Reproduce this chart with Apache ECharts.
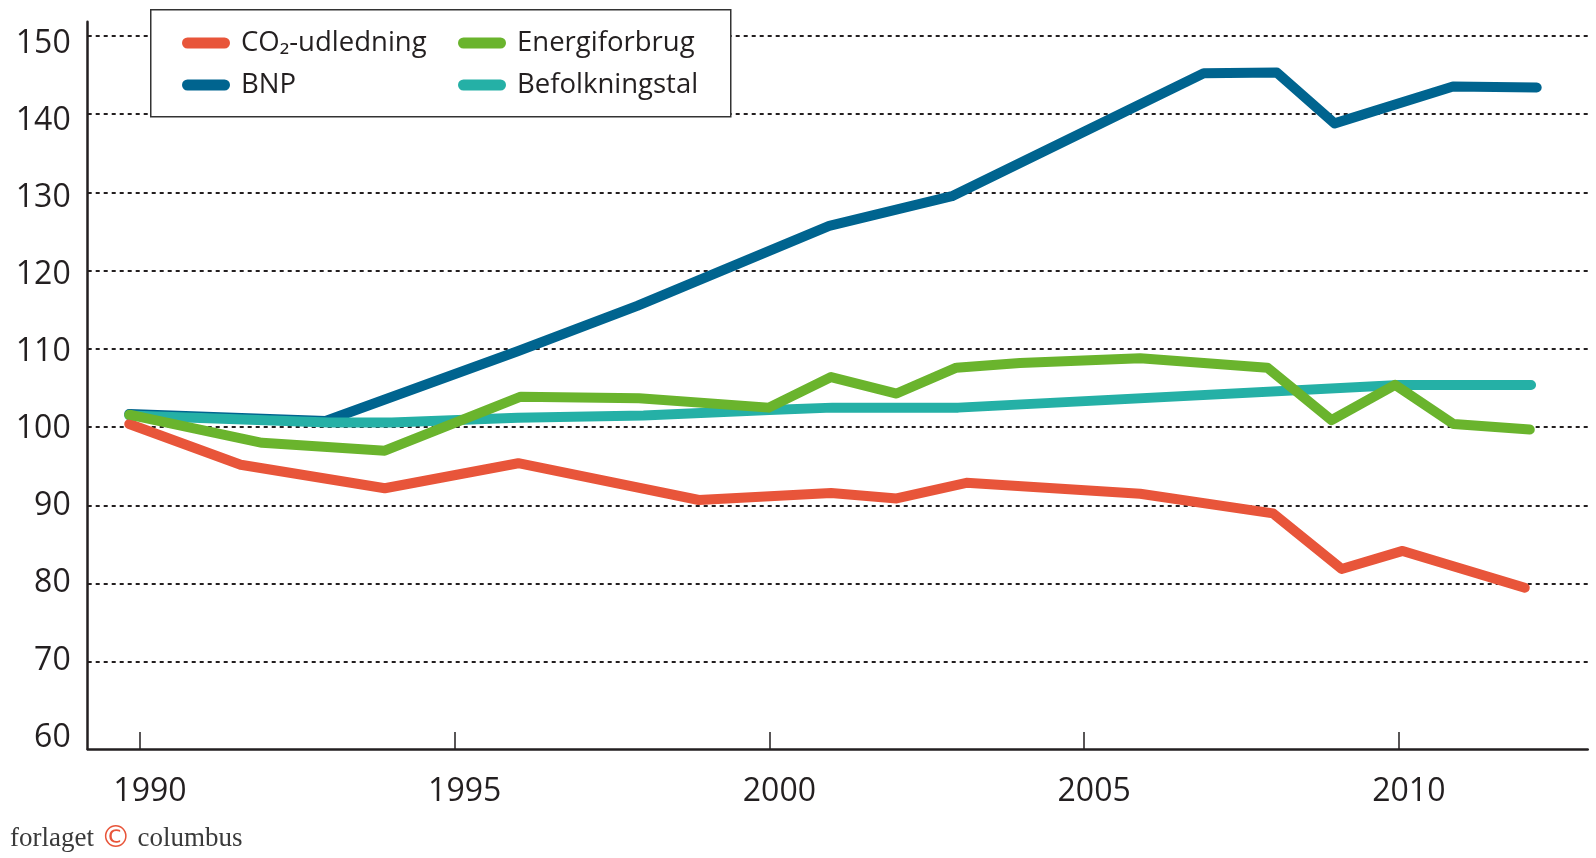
<!DOCTYPE html>
<html>
<head>
<meta charset="utf-8">
<script src="https://cdn.jsdelivr.net/npm/echarts@6/dist/echarts.min.js"></script>
<style>
  html, body { margin: 0; padding: 0; background: #fff; }
  #chart { width: 1596px; height: 858px; }
</style>
</head>
<body>
<div id="chart"></div>
<script>
// akse-etiketter
const yearTicks = [1990, 1995, 2000, 2005, 2010];
const valueTicks = [60, 70, 80, 90, 100, 110, 120, 130, 140, 150];

// (indeks, 1990 = 100)
const co2Years = [1989.83, 1991.6, 1993.89, 1996.01, 1998.88, 2000.98, 2002.02, 2003.13, 2005.89, 2008.0, 2009.09, 2010.06, 2012.0];
const co2Values = [100.4, 95.2, 92.2, 95.4, 90.7, 91.6, 90.9, 92.9, 91.5, 89.0, 81.9, 84.2, 79.5];

const energyYears = [1989.83, 1991.94, 1993.89, 1996.05, 1997.93, 1999.99, 2000.98, 2002.02, 2002.97, 2003.98, 2005.89, 2007.91, 2008.93, 2009.94, 2010.87, 2012.08];
const energyValues = [101.6, 98.0, 97.0, 103.9, 103.7, 102.5, 106.4, 104.3, 107.6, 108.2, 108.8, 107.6, 100.9, 105.4, 100.4, 99.7];

const bnpYears = [1989.83, 1992.95, 1996.0, 1997.9, 2000.95, 2002.9, 2006.9, 2008.06, 2008.98, 2010.86, 2012.19];
const bnpValues = [101.7, 100.8, 109.7, 115.5, 125.7, 129.5, 145.2, 145.3, 138.8, 143.5, 143.4];

const popYears = [1989.83, 1993.0, 1994.0, 1996.0, 1998.0, 2000.0, 2001.0, 2003.0, 2010.0, 2012.1];
const popValues = [101.5, 100.6, 100.6, 101.2, 101.5, 102.2, 102.5, 102.5, 105.4, 105.4];

const pair = (xs, ys) => xs.map((x, i) => [x, ys[i]]);

const X_MIN = 1989.17, X_MAX = 2013.0;
const ink = '#231f20';
const font = 'Open Sans';
const pill = 'path://M5.5,0H42.5A5.5,5.5,0,0,1,42.5,11H5.5A5.5,5.5,0,0,1,5.5,0Z';

const legendBase = {
    orient: 'vertical',
    top: 28,
    itemWidth: 48,
    itemHeight: 11,
    itemGap: 12,
    icon: pill,
    selectedMode: false,
    padding: 0,
    textStyle: { fontFamily: font, fontSize: 27.5, color: ink, lineHeight: 30, padding: [0, 0, 0, 6] }
};

function lineSeries(name, xs, ys, color) {
    return {
        name: name,
        type: 'line',
        xAxisIndex: 0,
        yAxisIndex: 0,
        data: pair(xs, ys),
        symbol: 'none',
        itemStyle: { color: color },
        lineStyle: { color: color, width: 10, cap: 'round', join: 'round' },
        z: 2
    };
}

const option = {
    backgroundColor: '#fff',
    animation: false,
    grid: [
        // dataområde: 60 - 150
        { left: 87.7, right: 8.3, top: 35.7, bottom: 117.6 },
        // ramme med akselinjer
        { left: 87.7, right: 8.3, top: 21.7, bottom: 109 }
    ],
    xAxis: [
        { gridIndex: 0, type: 'value', min: X_MIN, max: X_MAX, show: false },
        {
            gridIndex: 1, type: 'value', min: X_MIN, max: X_MAX,
            axisLine: { show: true, onZero: false, lineStyle: { color: ink, width: 2.5 } },
            axisTick: { show: true, inside: true, length: 17, customValues: yearTicks, lineStyle: { color: ink, width: 1.5 } },
            axisLabel: {
                customValues: yearTicks, formatter: v => String(v),
                fontFamily: font, fontSize: 32, color: ink, margin: 27, padding: [0, 0, 0, 20]
            },
            splitLine: { show: false }
        }
    ],
    yAxis: [
        {
            gridIndex: 0, type: 'value', min: 60, max: 150, interval: 10,
            axisLine: { show: false },
            axisTick: { show: false },
            axisLabel: { show: false },
            splitLine: { show: true, showMinLine: false, lineStyle: { color: ink, width: 2, type: [4, 4] } }
        },
        {
            gridIndex: 1, type: 'value', min: 58.51, max: 152.85,
            axisLine: { show: true, onZero: false, lineStyle: { color: ink, width: 2.5 } },
            axisTick: { show: false },
            axisLabel: { customValues: valueTicks, formatter: v => String(v), fontFamily: font, fontSize: 32, color: ink, margin: 17 },
            splitLine: { show: false }
        }
    ],
    legend: [
        Object.assign({}, legendBase, { left: 182, data: ['CO₂-udledning', 'BNP'] }),
        Object.assign({}, legendBase, { left: 458, data: ['Energiforbrug', 'Befolkningstal'] })
    ],
    graphic: [
        {
            type: 'rect', left: 150, top: 9, z: 3,
            shape: { width: 580, height: 107 },
            style: { fill: '#fff', stroke: '#333', lineWidth: 1.5 }
        },
        {
            type: 'text', left: 10, top: 824, z: 5,
            style: {
                text: '{a|forlaget }{c|©}{a| columbus}',
                rich: {
                    a: { fontFamily: 'Liberation Serif', fontSize: 27, fill: '#3a3a3a' },
                    c: { fontFamily: 'DejaVu Sans', fontSize: 30, fill: '#e8553a' }
                }
            }
        }
    ],
    series: [
        lineSeries('BNP', bnpYears, bnpValues, '#00648f'),
        lineSeries('Befolkningstal', popYears, popValues, '#25b0a6'),
        lineSeries('CO₂-udledning', co2Years, co2Values, '#e8553a'),
        lineSeries('Energiforbrug', energyYears, energyValues, '#6ab42d')
    ]
};

const chart = echarts.init(document.getElementById('chart'));
chart.setOption(option);
</script>
</body>
</html>
